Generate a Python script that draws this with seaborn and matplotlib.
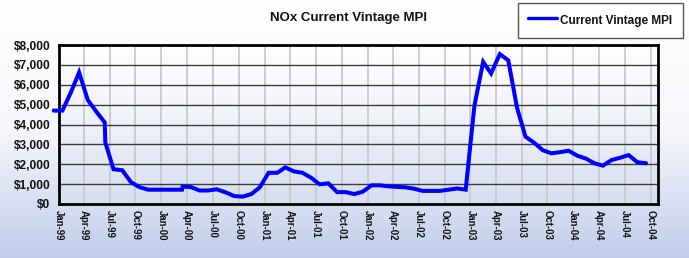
import numpy as np
import pandas as pd
import matplotlib
matplotlib.use("Agg")
import matplotlib.pyplot as plt
import matplotlib.dates as mdates
from matplotlib.colors import LinearSegmentedColormap
import seaborn as sns

# ---------------- data ----------------
dates = [
    "1998-12-15", "1999-01-15", "1999-02-15", "1999-03-15", "1999-04-15", "1999-05-15",
    "1999-06-14", "1999-06-16", "1999-07-15", "1999-08-15", "1999-09-15", "1999-10-15",
    "1999-11-15", "1999-12-15",
    "2000-01-15", "2000-02-15", "2000-03-14", "2000-03-16", "2000-04-15", "2000-05-15",
    "2000-06-15", "2000-07-15", "2000-08-15", "2000-09-15", "2000-10-15", "2000-11-15",
    "2000-12-15",
    "2001-01-15", "2001-02-15", "2001-03-15", "2001-04-15", "2001-05-15", "2001-06-15",
    "2001-07-15", "2001-08-15", "2001-09-15", "2001-10-15", "2001-11-15", "2001-12-15",
    "2002-01-15", "2002-02-15", "2002-03-15", "2002-04-15", "2002-05-15", "2002-06-15",
    "2002-07-15", "2002-08-15", "2002-09-15", "2002-10-15", "2002-11-15", "2002-12-15",
    "2003-01-15", "2003-02-15", "2003-03-15", "2003-04-15", "2003-05-15", "2003-06-15",
    "2003-07-15", "2003-08-15", "2003-09-15", "2003-10-15", "2003-11-15", "2003-12-15",
    "2004-01-15", "2004-02-15", "2004-03-15", "2004-04-15", "2004-05-15", "2004-06-15",
    "2004-07-15", "2004-08-15", "2004-09-15",
]
mpi_values = [
    4700, 4700, 5650, 6620, 5230, 4650,
    4100, 3100, 1750, 1700, 1100, 850,
    720, 720,
    720, 720, 720, 880, 850, 680,
    680, 740, 590, 400, 370, 500,
    840,
    1570, 1570, 1840, 1640, 1570, 1320,
    990, 1040, 600, 600, 500, 620,
    940, 940, 890, 860, 840, 770,
    660, 660, 660, 720, 780, 720,
    4950, 7150, 6570, 7540, 7230, 4850,
    3390, 3080, 2700, 2550, 2610, 2680,
    2430, 2280, 2050, 1930, 2210, 2330,
    2460, 2100, 2050,
]
series_name = "Current Vintage MPI"
title_text = "NOx Current Vintage MPI"
y_ticks = [0, 1000, 2000, 3000, 4000, 5000, 6000, 7000, 8000]
x_start, x_end = "1999-01-01", "2004-10-27"

df = pd.DataFrame({"date": pd.to_datetime(dates), "value": mpi_values})

# ---------------- style ----------------
sns.set_theme(style="white")
plt.rcParams["font.family"] = ["Liberation Sans", "DejaVu Sans"]
plt.rcParams["font.weight"] = "bold"

W, H = 689, 258
fig = plt.figure(figsize=(W / 100, H / 100), dpi=100)

# figure background gradient (white top -> light blue bottom)
bg = fig.add_axes([0, 0, 1, 1], zorder=-10)
fig_cmap = LinearSegmentedColormap.from_list("figbg", ["#ffffff", "#f6f7fb", "#c0cdea"])
bg.imshow(np.linspace(0, 1, 256).reshape(-1, 1), aspect="auto", cmap=fig_cmap,
          extent=[0, 1, 0, 1], origin="upper")
bg.set_axis_off()

ax_pos = [58.5 / W, 1 - 204 / H, (658 - 58.5) / W, (204 - 45) / H]

# plot area gradient
pbg = fig.add_axes(ax_pos, zorder=-5)
plot_cmap = LinearSegmentedColormap.from_list("plotbg", ["#ffffff", "#eef1f9", "#d6def0"])
pbg.imshow(np.linspace(0, 1, 256).reshape(-1, 1), aspect="auto", cmap=plot_cmap,
           extent=[0, 1, 0, 1], origin="upper")
pbg.set_axis_off()

ax = fig.add_axes(ax_pos)
ax.patch.set_alpha(0)

sns.lineplot(data=df, x="date", y="value", ax=ax, color="#0000ff", linewidth=2.9,
             estimator=None, sort=False, label=series_name, clip_on=False,
             solid_joinstyle="miter", zorder=5)

ax.set_xlim(pd.Timestamp(x_start), pd.Timestamp(x_end))
ax.set_ylim(0, 8000)
ax.set_yticks(y_ticks)
ax.yaxis.set_major_formatter(matplotlib.ticker.FuncFormatter(lambda v, p: f"${v:,.0f}"))
ax.xaxis.set_major_locator(mdates.MonthLocator(bymonth=[1, 4, 7, 10]))
ax.xaxis.set_major_formatter(mdates.DateFormatter("%b-%y"))

ax.set_xlabel("")
ax.set_ylabel("")

ax.set_axisbelow(True)
ax.yaxis.grid(True, color="#3c3c3c", linewidth=1.0)
ax.xaxis.grid(True, color="#c9c9c9", linewidth=1.3)

for sp in ax.spines.values():
    sp.set_visible(True)
    sp.set_color("black")
    sp.set_linewidth(2.0)

ax.tick_params(axis="y", which="major", direction="out", length=4.5, width=1,
               color="black", pad=1.5, labelsize=8.6, labelcolor="#111111")
ax.tick_params(axis="x", which="major", direction="out", length=2.5, width=1,
               color="black", pad=2, labelsize=6.9, labelcolor="#111111",
               labelrotation=-90)
for lab in ax.get_xticklabels() + ax.get_yticklabels():
    lab.set_fontweight("bold")
for lab in ax.get_xticklabels():
    lab.set_va("top")
    lab.set_ha("center")

fig.text(348 / W, 1 - 18.5 / H, title_text, ha="center", va="center",
         fontsize=9.5, fontweight="bold", color="#111111")

leg = ax.legend(loc="upper left", bbox_to_anchor=(518 / W, 1 - 2.7 / H),
                bbox_transform=fig.transFigure, frameon=True, fancybox=False,
                borderaxespad=0, borderpad=0.85, handlelength=2.45, handletextpad=0.3,
                handleheight=1.6, prop={"weight": "bold", "size": 8.5})
leg.get_frame().set_edgecolor("#555555")
leg.get_frame().set_linewidth(1.0)
leg.get_frame().set_facecolor("white")
leg.get_frame().set_alpha(1)
for h in leg.get_lines():
    h.set_linewidth(2.4)
for t in leg.get_texts():
    t.set_color("#111111")

fig.savefig("out.png", dpi=100)
